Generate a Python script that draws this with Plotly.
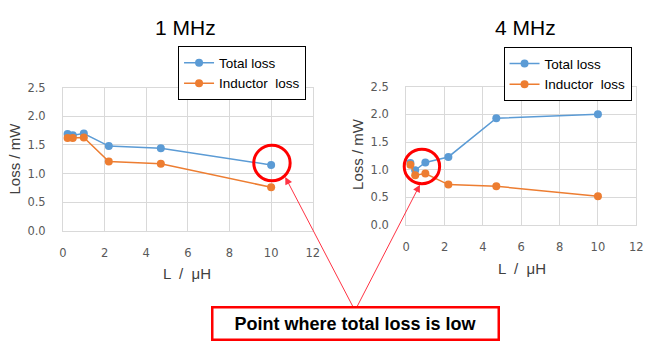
import plotly.graph_objects as go

L_uH = [0.22, 0.47, 1.0, 2.2, 4.7, 10]
total_1MHz = [1.69, 1.67, 1.70, 1.48, 1.44, 1.15]
inductor_1MHz = [1.62, 1.62, 1.63, 1.21, 1.17, 0.76]
total_4MHz = [1.12, 0.99, 1.13, 1.23, 1.93, 2.00]
inductor_4MHz = [1.09, 0.90, 0.93, 0.73, 0.70, 0.52]

BLUE = "#5b9bd5"
ORANGE = "#ed7d31"
RED = "#ff0000"
FONT = "Liberation Sans"
TICKFONT = "DejaVu Sans"

fig = go.Figure()

def add(x, y, name, color, xa, ya, legend):
    fig.add_trace(go.Scatter(x=x, y=y, name=name, mode="lines+markers",
                             line=dict(color=color, width=1.5),
                             marker=dict(color=color, size=8),
                             xaxis=xa, yaxis=ya, legend=legend))

add(L_uH, total_1MHz, "Total loss", BLUE, "x", "y", "legend")
add(L_uH, inductor_1MHz, "Inductor  loss", ORANGE, "x", "y", "legend")
add(L_uH, total_4MHz, "Total loss", BLUE, "x2", "y2", "legend2")
add(L_uH, inductor_4MHz, "Inductor  loss", ORANGE, "x2", "y2", "legend2")

W, H = 660, 353
def px(v): return v / W
def py(v): return 1 - v / H

axis_common = dict(showgrid=True, gridcolor="#d9d9d9", gridwidth=1,
                   zeroline=False, showline=True, linecolor="#d9d9d9", mirror=True,
                   ticks="", tickfont=dict(family=TICKFONT, size=11.5, color="#595959"))
xstand = dict(ticklabelstandoff=11)
ystand = dict(ticklabelstandoff=14)

legend_common = dict(xanchor="left", yanchor="top",
                     bordercolor="#000000", borderwidth=1, bgcolor="white",
                     font=dict(family=FONT, size=13.5, color="#000000"),
                     tracegroupgap=0, itemwidth=30)

fig.update_layout(
    width=W, height=H, margin=dict(l=0, r=0, t=0, b=0),
    paper_bgcolor="white", plot_bgcolor="white",
    font=dict(family=FONT),
    xaxis=dict(domain=[px(60), px(314)], range=[0, 12], dtick=2, anchor="y", **axis_common, **xstand),
    yaxis=dict(domain=[py(233), py(84)], range=[0, 2.5], dtick=0.5, tickformat=".1f", anchor="x", **axis_common, **ystand),
    xaxis2=dict(domain=[px(409), px(643)], range=[0, 12], dtick=2, anchor="y2", **axis_common, **xstand),
    yaxis2=dict(domain=[py(227), py(83)], range=[0, 2.5], dtick=0.5, tickformat=".1f", anchor="x2", **axis_common, **ystand),
    legend=dict(x=px(177), y=py(41), **legend_common),
    legend2=dict(x=px(508), y=py(42), **legend_common),
    showlegend=True,
)

def label(text, x, y, size, color="#000000", angle=0):
    return dict(text=text, x=px(x), y=py(y), xref="paper", yref="paper", showarrow=False,
                xanchor="center", yanchor="middle", textangle=angle,
                font=dict(family=FONT, size=size, color=color))

annotations = [
    label("1 MHz", 185, 21, 21),
    label("4 MHz", 530, 21, 21),
    label("Loss / mW", 11, 158, 15, "#404040", -90),
    label("Loss / mW", 360, 153, 15, "#404040", -90),
    label("L  /  μH", 186, 278, 15, "#404040"),
    label("L  /  μH", 527, 272, 15, "#404040"),
    dict(text="", x=px(286), y=py(177), xref="paper", yref="paper", showarrow=True,
         ax=357 - 286, ay=313 - 177, arrowcolor="#ff3344", arrowwidth=1, arrowhead=2, arrowsize=1.5),
    dict(text="", x=px(423), y=py(185), xref="paper", yref="paper", showarrow=True,
         ax=357 - 423, ay=313 - 185, arrowcolor="#ff3344", arrowwidth=1, arrowhead=2, arrowsize=1.5),
    dict(text="<b>Point where total loss is low</b>", x=px(357), y=py(330), xref="paper", yref="paper",
         xanchor="center", yanchor="middle",
         showarrow=False, font=dict(family=FONT, size=18, color="#000000"),
         bordercolor=RED, borderwidth=2.5, borderpad=1, bgcolor="white", width=282, height=28),
]
fig.update_layout(annotations=annotations)

shapes = [
    dict(type="circle", xref="paper", yref="paper",
         x0=px(254), x1=px(291), y0=py(181), y1=py(144),
         line=dict(color=RED, width=3)),
    dict(type="circle", xref="paper", yref="paper",
         x0=px(407), x1=px(443), y0=py(184), y1=py(148),
         line=dict(color=RED, width=3)),
]
fig.update_layout(shapes=shapes)

fig.write_html("out.html")
